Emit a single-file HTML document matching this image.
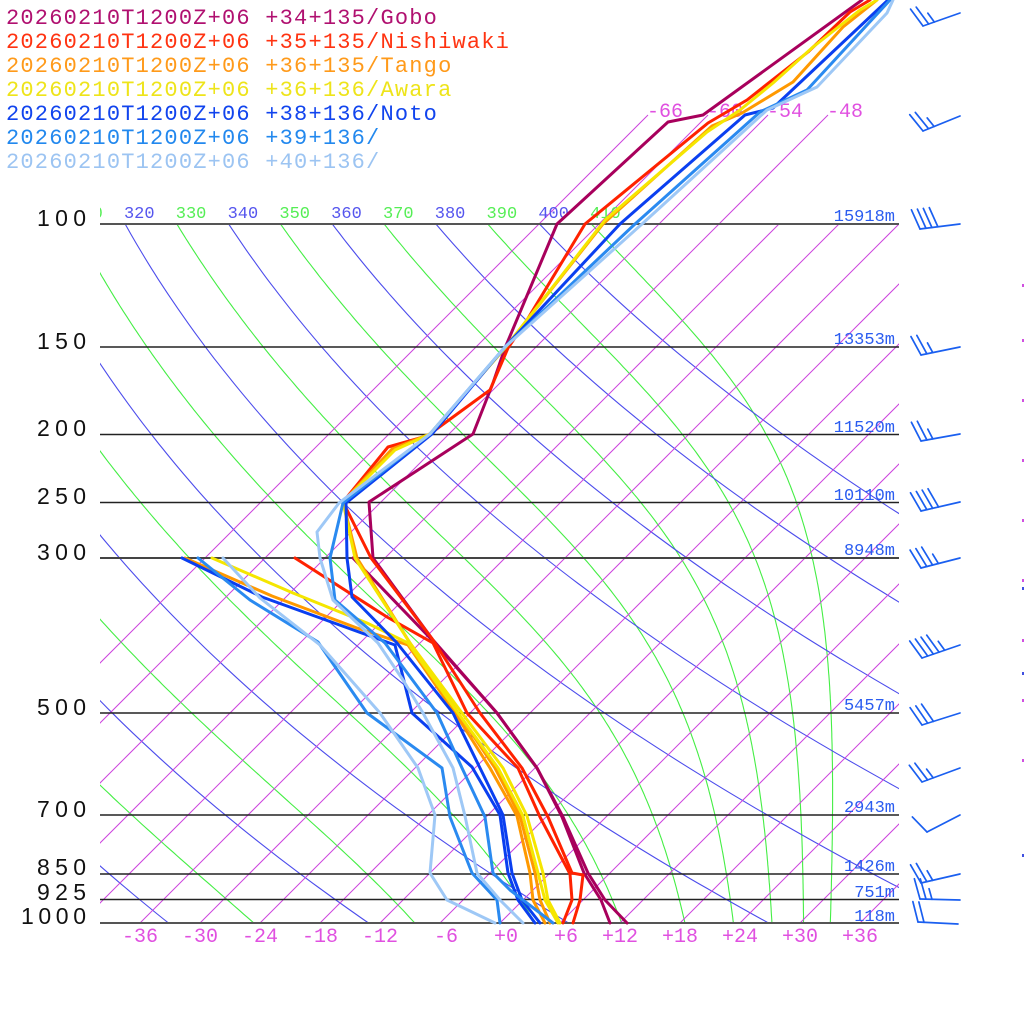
<!DOCTYPE html>
<html><head><meta charset="utf-8">
<style>
html,body{margin:0;padding:0;background:#fff;}
svg{display:block;}
</style></head><body>
<svg id="c" width="1024" height="1024" viewBox="0 0 1024 1024" xmlns="http://www.w3.org/2000/svg">
<defs>
<clipPath id="plot"><rect x="100" y="224" width="799" height="699"/></clipPath>
<clipPath id="lblclip"><rect x="100" y="190" width="800" height="34"/></clipPath>
</defs>
<rect x="0" y="0" width="1024" height="1024" fill="#fff"/>
<g id="bg" clip-path="url(#plot)" fill="none"></g>
<g id="ext" fill="none"></g>
<g id="hlines" stroke="#222" stroke-width="1.6">
<line x1="100" y1="224" x2="899" y2="224" stroke="#555" stroke-width="2"/>
<line x1="100" y1="347" x2="899" y2="347"/>
<line x1="100" y1="434.5" x2="899" y2="434.5"/>
<line x1="100" y1="502.5" x2="899" y2="502.5"/>
<line x1="100" y1="558" x2="899" y2="558" stroke="#444" stroke-width="2"/>
<line x1="100" y1="713" x2="899" y2="713"/>
<line x1="100" y1="815" x2="899" y2="815"/>
<line x1="100" y1="874" x2="899" y2="874"/>
<line x1="100" y1="899.5" x2="899" y2="899.5"/>
<line x1="100" y1="923" x2="899" y2="923" stroke="#555" stroke-width="2"/>
</g>
<g id="thlbl" clip-path="url(#lblclip)" font-family="Liberation Mono, monospace" font-size="17"></g>
<g id="isolbl" font-family="Liberation Mono, monospace" font-size="20" fill="#e050e0"></g>

<!-- y-axis labels -->
<g font-family="Liberation Sans, sans-serif" font-size="23" fill="#111">
<text x="37" y="226" textLength="49" lengthAdjust="spacing">100</text>
<text x="37" y="349" textLength="49" lengthAdjust="spacing">150</text>
<text x="37" y="436" textLength="49" lengthAdjust="spacing">200</text>
<text x="37" y="504" textLength="49" lengthAdjust="spacing">250</text>
<text x="37" y="560" textLength="49" lengthAdjust="spacing">300</text>
<text x="37" y="715" textLength="49" lengthAdjust="spacing">500</text>
<text x="37" y="817" textLength="49" lengthAdjust="spacing">700</text>
<text x="37" y="875" textLength="49" lengthAdjust="spacing">850</text>
<text x="37" y="900" textLength="49" lengthAdjust="spacing">925</text>
<text x="21" y="924" textLength="65" lengthAdjust="spacing">1000</text>
</g>

<!-- x-axis labels -->
<g font-family="Liberation Mono, monospace" font-size="20" fill="#e050e0" text-anchor="middle">
<text x="140" y="942">-36</text>
<text x="200" y="942">-30</text>
<text x="260" y="942">-24</text>
<text x="320" y="942">-18</text>
<text x="380" y="942">-12</text>
<text x="446" y="942">-6</text>
<text x="506" y="942">+0</text>
<text x="566" y="942">+6</text>
<text x="620" y="942">+12</text>
<text x="680" y="942">+18</text>
<text x="740" y="942">+24</text>
<text x="800" y="942">+30</text>
<text x="860" y="942">+36</text>
</g>

<!-- height labels -->
<g font-family="Liberation Mono, monospace" font-size="17" fill="#2a5cf0" text-anchor="end">
<text x="895" y="221">15918m</text>
<text x="895" y="344">13353m</text>
<text x="895" y="432">11520m</text>
<text x="895" y="500">10110m</text>
<text x="895" y="555">8948m</text>
<text x="895" y="710">5457m</text>
<text x="895" y="812">2943m</text>
<text x="895" y="871">1426m</text>
<text x="895" y="897">751m</text>
<text x="895" y="921">118m</text>
</g>

<!-- data series -->
<g fill="none" stroke-width="3" stroke-linejoin="round" stroke-linecap="round">
<polyline stroke="#a8005c" points="862,0 703,115 668,122 557,224 505,348 493,383 473,434 369,502 373,558 433,640 497,713 537,768 563,817 588,873 605,900 627,923"/>
<polyline stroke="#a8005c" points="353,558 433,641 497,713 537,768 562,817 584,873 601,900 610,923"/>

<polyline stroke="#ff2200" points="870,0 850,12 808,52 747,100 708,123 585,224 527,320 508,348 490,390 427,436 388,447 343,502 371,558 433,640 480,713 522,768 548,817 572,873 583,875 580,900 573,923"/>
<polyline stroke="#ff2200" points="295,558 387,617 433,643 467,713 518,768 540,817 570,874 572,900 563,923"/>

<polyline stroke="#ff9900" points="877,0 843,27 793,82 742,113 712,126 603,224 505,348 430,434 392,449 343,502 357,558 410,643 458,713 495,768 520,816 535,873 540,900 550,923"/>
<polyline stroke="#ff9900" points="185,558 272,596 357,628 408,645 455,713 490,768 517,816 530,873 533,900 545,923"/>

<polyline stroke="#f5e600" points="877,0 860,10 813,47 773,83 740,110 707,132 605,220 505,348 430,434 395,450 343,502 355,558 410,643 462,713 503,768 527,816 543,873 548,900 560,923"/>
<polyline stroke="#f5e600" points="212,558 293,593 367,623 408,643 458,713 498,768 523,816 538,873 545,900 558,923"/>

<polyline stroke="#0a3ff0" points="888,0 773,108 745,115 620,224 505,347 432,434 346,503 347,558 352,597 397,643 453,713 480,768 503,815 512,873 522,900 540,923"/>
<polyline stroke="#0a3ff0" points="182,558 262,597 323,619 395,645 412,713 472,767 500,815 508,873 518,900 535,923"/>

<polyline stroke="#2a8af0" points="890,0 807,90 760,112 635,224 505,347 430,434 343,503 330,558 335,600 385,643 437,713 462,768 485,817 493,873 510,890 553,923"/>
<polyline stroke="#2a8af0" points="198,558 250,600 318,642 367,713 442,768 450,817 472,873 497,900 500,923"/>

<polyline stroke="#9ec8f6" points="893,0 887,13 817,87 767,110 642,224 505,347 430,434 339,503 317,532 320,558 333,600 378,643 403,680 423,713 453,768 465,816 477,873 500,900 523,923"/>
<polyline stroke="#9ec8f6" points="223,558 260,598 320,645 380,713 418,768 435,815 430,873 447,900 495,923"/>
</g>

<g id="barbs" stroke="#1a5ff0" stroke-width="1.7" stroke-linecap="round" fill="none"></g>

<!-- right edge tiny marks -->
<g fill="#d050e0">
<rect x="1022" y="284" width="2" height="3"/>
<rect x="1022" y="339" width="2" height="3"/>
<rect x="1022" y="399" width="2" height="3"/>
<rect x="1022" y="459" width="2" height="3"/>
<rect x="1022" y="519" width="2" height="3"/>
<rect x="1022" y="579" width="2" height="3"/>
<rect x="1022" y="639" width="2" height="3"/>
<rect x="1022" y="699" width="2" height="3"/>
<rect x="1022" y="759" width="2" height="3"/>
</g>
<g fill="#4050e0">
<rect x="1022" y="587" width="2" height="3"/>
<rect x="1022" y="672" width="2" height="3"/>
<rect x="1022" y="854" width="2" height="3"/>
</g>

<!-- legend -->
<g font-family="Liberation Mono, monospace" font-size="22" letter-spacing="1.2">
<text x="6" y="24" fill="#b01070">20260210T1200Z+06 +34+135/Gobo</text>
<text x="6" y="48" fill="#ff3311">20260210T1200Z+06 +35+135/Nishiwaki</text>
<text x="6" y="72" fill="#ff9a1a">20260210T1200Z+06 +36+135/Tango</text>
<text x="6" y="96" fill="#eee41a">20260210T1200Z+06 +36+136/Awara</text>
<text x="6" y="120" fill="#1144ee">20260210T1200Z+06 +38+136/Noto</text>
<text x="6" y="144" fill="#2288ee">20260210T1200Z+06 +39+136/</text>
<text x="6" y="168" fill="#9cc4f2">20260210T1200Z+06 +40+136/</text>
</g>
</svg>
<script>
(function(){
var NS="http://www.w3.org/2000/svg";
var K=303.6, Y0=923, kap=0.2857;
function yOf(p){return Y0 - K*Math.log(1000/p);}
function xOf(Tc,y){return 500+10*Tc+(Y0-y);}
function add(parent,tag,attrs,text){var e=document.createElementNS(NS,tag);for(var k in attrs)e.setAttribute(k,attrs[k]);if(text!=null)e.textContent=text;parent.appendChild(e);return e;}
var bg=document.getElementById('bg');
var ext=document.getElementById('ext');
// dry adiabats
function dryPath(th){var d='';for(var i=0;i<=140;i++){var p=100*Math.pow(10,i/140);var T=th*Math.pow(p/1000,kap)-273.15;var y=yOf(p);var x=xOf(T,y);d+=(i?'L':'M')+x.toFixed(1)+' '+y.toFixed(1);}return d;}
function gam(T,p){var Rd=287.04,cp=1005.7,L=2.501e6,eps=0.622;var Tc=T-273.15;var es=6.112*Math.exp(17.67*Tc/(Tc+243.5));var rs=eps*es/Math.max(p-es,1);return (Rd*T+L*rs)/(cp+L*L*rs*eps/(Rd*T*T));}
function moistPath(th){var T=th*Math.pow(0.1,kap);var lp=Math.log(100);var N=240;var h=(Math.log(1000)-lp)/N;var d='';
 for(var i=0;i<=N;i++){var p=Math.exp(lp);var y=yOf(p);var x=xOf(T-273.15,y);d+=(i?'L':'M')+x.toFixed(1)+' '+y.toFixed(1);if(i==N)break;
  var k1=gam(T,Math.exp(lp)),k2=gam(T+h/2*k1,Math.exp(lp+h/2)),k3=gam(T+h/2*k2,Math.exp(lp+h/2)),k4=gam(T+h*k3,Math.exp(lp+h));
  T+=h/6*(k1+2*k2+2*k3+k4);lp+=h;}
 return d;}
for(var th=250;th<=410;th+=20){add(bg,'path',{d:moistPath(th),stroke:'#44ee44','stroke-width':1.1});}
for(var th2=240;th2<=400;th2+=20){add(bg,'path',{d:dryPath(th2),stroke:'#4c4cec','stroke-width':1.1});}
// isotherms
for(var T=-66;T<=36;T+=6){add(bg,'line',{x1:xOf(T,923),y1:923,x2:xOf(T,224),y2:224,stroke:'#cc44dd','stroke-width':1});}
// isotherm extension above 100 hPa
var il=document.getElementById('isolbl');
[-66,-60,-54,-48].forEach(function(T){
 add(ext,'line',{x1:xOf(T,224),y1:224,x2:xOf(T,115),y2:115,stroke:'#cc44dd','stroke-width':1});
 add(il,'text',{x:xOf(T,115)-1,y:117},String(T));
});
// theta labels
var tl=document.getElementById('thlbl');
for(var t=310;t<=410;t+=10){var x=xOf(t*Math.pow(0.1,kap)-273.15,224);var blue=((t/10)%2===0);
 add(tl,'text',{x:x-1,y:218,fill:blue?'#5555ee':'#55ee55'},String(t));}
// wind barbs
var g=document.getElementById('barbs');
function barb(bx,by,tx,ty,nf,nh){
 add(g,'line',{x1:bx,y1:by,x2:tx,y2:ty});
 var dx=tx-bx,dy=ty-by,L=Math.hypot(dx,dy),ux=dx/L,uy=dy/L;
 var a=Math.atan2(uy,ux)-107*Math.PI/180;var vx=Math.cos(a),vy=Math.sin(a);var d=0,i,px,py;
 for(i=0;i<nf;i++){px=bx+ux*d;py=by+uy*d;add(g,'line',{x1:px,y1:py,x2:px+vx*21,y2:py+vy*21});d+=6;}
 for(i=0;i<nh;i++){px=bx+ux*d;py=by+uy*d;add(g,'line',{x1:px,y1:py,x2:px+vx*11,y2:py+vy*11});d+=6;}
}
barb(923,26,960,13,2,1);
barb(923,131,960,116,2,1);
barb(920,229,960,224,4,0);
barb(921,355,960,347,2,1);
barb(921,441,960,434,2,1);
barb(921,511,960,502,4,0);
barb(921,568,960,558,3,1);
barb(922,658,960,645,4,1);
barb(922,725,960,713,3,0);
barb(922,782,960,768,2,1);
barb(927,832,960,815,1,0);
barb(921,883,960,874,2,1);
barb(920,899,960,900,2,1);
barb(918,922,958,924,2,0);
})();
</script>
</body></html>
